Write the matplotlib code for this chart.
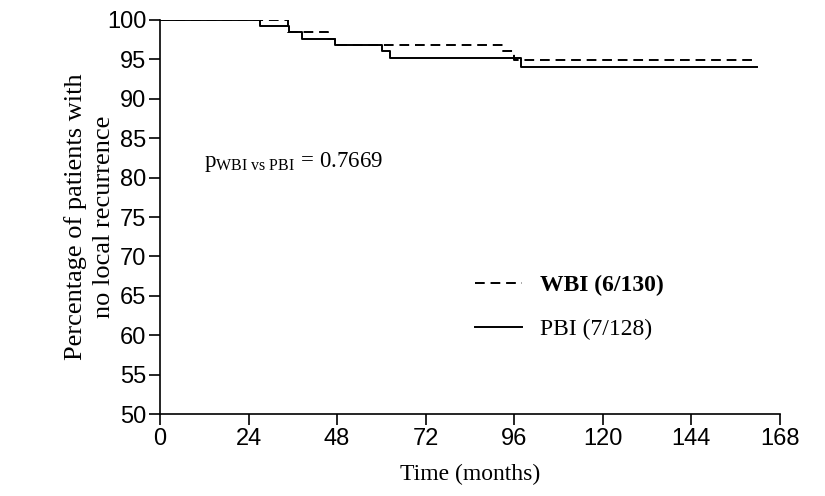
import numpy as np
import matplotlib
matplotlib.use("Agg")
import matplotlib.pyplot as plt

# Kaplan-Meier steps (months, % without local recurrence)
wbi_time = [0, 34.7, 45.5, 47.4, 93.0, 96.0, 161.5]
wbi_surv = [100, 98.4, 97.6, 96.8, 96.0, 94.9, 94.9]
pbi_time = [0, 27.0, 35.0, 38.4, 47.4, 60.2, 62.3, 98.0, 162.0]
pbi_surv = [100, 99.2, 98.4, 97.6, 96.8, 96.0, 95.1, 94.0, 94.0]

wbi_label = "WBI (6/130)"
pbi_label = "PBI (7/128)"
p_value = "0.7669"

x_ticks = [0, 24, 48, 72, 96, 120, 144, 168]
y_ticks = list(range(50, 101, 5))

plt.rcParams["mathtext.fontset"] = "stix"

fig = plt.figure(figsize=(8.25, 4.96), dpi=100)
ax = fig.add_axes([0.194, 0.165, 0.751, 0.795])

l1, = ax.step(wbi_time, wbi_surv, where="post", color="black", lw=1.4,
              linestyle=(0, (5, 3)), label=wbi_label)
l2, = ax.step(pbi_time, pbi_surv, where="post", color="black", lw=1.4,
              label=pbi_label)

ax.set_xlim(0, 168)
ax.set_ylim(50, 100)
ax.set_xticks(x_ticks)
ax.set_yticks(y_ticks)
ax.tick_params(axis="both", direction="out", length=8, width=1.2,
               labelsize=17, pad=2)
for lab in ax.get_xticklabels() + ax.get_yticklabels():
    lab.set_fontfamily("Liberation Sans")
ax.spines["top"].set_visible(False)
ax.spines["right"].set_visible(False)
ax.spines["left"].set_linewidth(1.2)
ax.spines["bottom"].set_linewidth(1.2)

ax.set_xlabel("Time (months)", fontfamily="Liberation Serif", fontsize=17,
              labelpad=10)
ax.set_ylabel("Percentage of patients with\nno local recurrence",
              fontfamily="Liberation Serif", fontsize=19, labelpad=-6,
              linespacing=1.35)

ax.text(12, 82, r"$\mathregular{p}_{\mathregular{WBI\ vs\ PBI}}$ = " + p_value,
        fontfamily="Liberation Serif", fontsize=16.5, va="center")

leg = ax.legend(handles=[l1, l2], loc="upper left",
                bbox_to_anchor=(0.474, 0.408), frameon=False,
                handlelength=2.0, handletextpad=0.75, labelspacing=0.95,
                prop={"family": "Liberation Serif", "size": 17})
leg.get_texts()[0].set_fontweight("bold")

fig.savefig("out.png", dpi=100)
